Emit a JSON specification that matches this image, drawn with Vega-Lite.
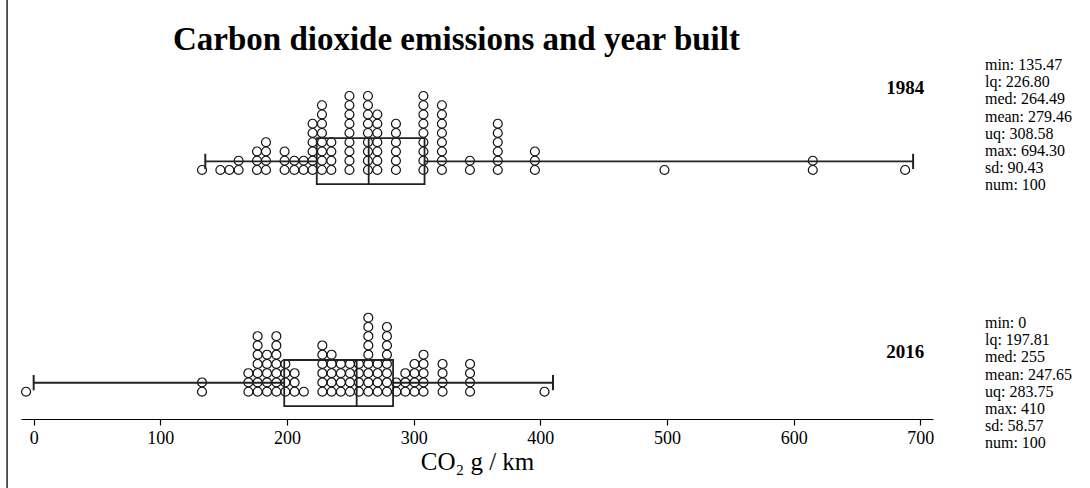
{
  "$schema": "https://vega.github.io/schema/vega-lite/v6.json",
  "width": 912,
  "height": 364,
  "autosize": "none",
  "padding": {"left": 21, "top": 55, "right": 157, "bottom": 69},
  "background": "white",
  "config": {"view": {"stroke": null}, "font": "Liberation Serif"},
  "title": {"text": "Carbon dioxide emissions and year built", "anchor": "start", "frame": "group", "dx": 152, "offset": -59, "fontSize": 33, "fontWeight": "bold", "font": "Liberation Serif", "color": "black"},
  "datasets": {
    "dots": [
      {"year":"1984","co2":132.9},
      {"year":"1984","co2":147.4},
      {"year":"1984","co2":154.5},
      {"year":"1984","co2":161.8},{"year":"1984","co2":161.8},
      {"year":"1984","co2":176.3},{"year":"1984","co2":176.3},{"year":"1984","co2":176.3},
      {"year":"1984","co2":183.4},{"year":"1984","co2":183.4},{"year":"1984","co2":183.4},{"year":"1984","co2":183.4},
      {"year":"1984","co2":198.1},{"year":"1984","co2":198.1},{"year":"1984","co2":198.1},
      {"year":"1984","co2":205.8},{"year":"1984","co2":205.8},
      {"year":"1984","co2":213.1},{"year":"1984","co2":213.1},
      {"year":"1984","co2":220.2},{"year":"1984","co2":220.2},{"year":"1984","co2":220.2},{"year":"1984","co2":220.2},{"year":"1984","co2":220.2},{"year":"1984","co2":220.2},
      {"year":"1984","co2":227.6},{"year":"1984","co2":227.6},{"year":"1984","co2":227.6},{"year":"1984","co2":227.6},{"year":"1984","co2":227.6},{"year":"1984","co2":227.6},{"year":"1984","co2":227.6},{"year":"1984","co2":227.6},
      {"year":"1984","co2":235.0},{"year":"1984","co2":235.0},{"year":"1984","co2":235.0},{"year":"1984","co2":235.0},
      {"year":"1984","co2":249.3},{"year":"1984","co2":249.3},{"year":"1984","co2":249.3},{"year":"1984","co2":249.3},{"year":"1984","co2":249.3},{"year":"1984","co2":249.3},{"year":"1984","co2":249.3},{"year":"1984","co2":249.3},{"year":"1984","co2":249.3},
      {"year":"1984","co2":263.9},{"year":"1984","co2":263.9},{"year":"1984","co2":263.9},{"year":"1984","co2":263.9},{"year":"1984","co2":263.9},{"year":"1984","co2":263.9},{"year":"1984","co2":263.9},{"year":"1984","co2":263.9},{"year":"1984","co2":263.9},
      {"year":"1984","co2":271.3},{"year":"1984","co2":271.3},{"year":"1984","co2":271.3},{"year":"1984","co2":271.3},{"year":"1984","co2":271.3},{"year":"1984","co2":271.3},{"year":"1984","co2":271.3},
      {"year":"1984","co2":286.0},{"year":"1984","co2":286.0},{"year":"1984","co2":286.0},{"year":"1984","co2":286.0},{"year":"1984","co2":286.0},{"year":"1984","co2":286.0},
      {"year":"1984","co2":307.7},{"year":"1984","co2":307.7},{"year":"1984","co2":307.7},{"year":"1984","co2":307.7},{"year":"1984","co2":307.7},{"year":"1984","co2":307.7},{"year":"1984","co2":307.7},{"year":"1984","co2":307.7},{"year":"1984","co2":307.7},
      {"year":"1984","co2":322.3},{"year":"1984","co2":322.3},{"year":"1984","co2":322.3},{"year":"1984","co2":322.3},{"year":"1984","co2":322.3},{"year":"1984","co2":322.3},{"year":"1984","co2":322.3},{"year":"1984","co2":322.3},
      {"year":"1984","co2":344.4},{"year":"1984","co2":344.4},
      {"year":"1984","co2":366.4},{"year":"1984","co2":366.4},{"year":"1984","co2":366.4},{"year":"1984","co2":366.4},{"year":"1984","co2":366.4},{"year":"1984","co2":366.4},
      {"year":"1984","co2":395.7},{"year":"1984","co2":395.7},{"year":"1984","co2":395.7},
      {"year":"1984","co2":498.0},
      {"year":"1984","co2":615.1},{"year":"1984","co2":615.1},
      {"year":"1984","co2":688.0},
      {"year":"2016","co2":-6.0},
      {"year":"2016","co2":132.9},{"year":"2016","co2":132.9},
      {"year":"2016","co2":169.5},{"year":"2016","co2":169.5},{"year":"2016","co2":169.5},
      {"year":"2016","co2":176.8},{"year":"2016","co2":176.8},{"year":"2016","co2":176.8},{"year":"2016","co2":176.8},{"year":"2016","co2":176.8},{"year":"2016","co2":176.8},{"year":"2016","co2":176.8},
      {"year":"2016","co2":184.2},{"year":"2016","co2":184.2},{"year":"2016","co2":184.2},{"year":"2016","co2":184.2},{"year":"2016","co2":184.2},
      {"year":"2016","co2":191.6},{"year":"2016","co2":191.6},{"year":"2016","co2":191.6},{"year":"2016","co2":191.6},{"year":"2016","co2":191.6},{"year":"2016","co2":191.6},{"year":"2016","co2":191.6},
      {"year":"2016","co2":198.7},{"year":"2016","co2":198.7},{"year":"2016","co2":198.7},{"year":"2016","co2":198.7},
      {"year":"2016","co2":206.0},{"year":"2016","co2":206.0},{"year":"2016","co2":206.0},
      {"year":"2016","co2":213.3},
      {"year":"2016","co2":227.9},{"year":"2016","co2":227.9},{"year":"2016","co2":227.9},{"year":"2016","co2":227.9},{"year":"2016","co2":227.9},{"year":"2016","co2":227.9},
      {"year":"2016","co2":235.2},{"year":"2016","co2":235.2},{"year":"2016","co2":235.2},{"year":"2016","co2":235.2},{"year":"2016","co2":235.2},
      {"year":"2016","co2":242.5},{"year":"2016","co2":242.5},{"year":"2016","co2":242.5},{"year":"2016","co2":242.5},
      {"year":"2016","co2":249.7},{"year":"2016","co2":249.7},{"year":"2016","co2":249.7},{"year":"2016","co2":249.7},
      {"year":"2016","co2":256.8},{"year":"2016","co2":256.8},{"year":"2016","co2":256.8},{"year":"2016","co2":256.8},
      {"year":"2016","co2":264.2},{"year":"2016","co2":264.2},{"year":"2016","co2":264.2},{"year":"2016","co2":264.2},{"year":"2016","co2":264.2},{"year":"2016","co2":264.2},{"year":"2016","co2":264.2},{"year":"2016","co2":264.2},{"year":"2016","co2":264.2},
      {"year":"2016","co2":271.5},{"year":"2016","co2":271.5},{"year":"2016","co2":271.5},{"year":"2016","co2":271.5},
      {"year":"2016","co2":278.9},{"year":"2016","co2":278.9},{"year":"2016","co2":278.9},{"year":"2016","co2":278.9},{"year":"2016","co2":278.9},{"year":"2016","co2":278.9},{"year":"2016","co2":278.9},{"year":"2016","co2":278.9},
      {"year":"2016","co2":286.3},{"year":"2016","co2":286.3},
      {"year":"2016","co2":293.4},{"year":"2016","co2":293.4},{"year":"2016","co2":293.4},
      {"year":"2016","co2":300.7},{"year":"2016","co2":300.7},{"year":"2016","co2":300.7},{"year":"2016","co2":300.7},
      {"year":"2016","co2":307.8},{"year":"2016","co2":307.8},{"year":"2016","co2":307.8},{"year":"2016","co2":307.8},{"year":"2016","co2":307.8},
      {"year":"2016","co2":322.8},{"year":"2016","co2":322.8},{"year":"2016","co2":322.8},{"year":"2016","co2":322.8},
      {"year":"2016","co2":344.5},{"year":"2016","co2":344.5},{"year":"2016","co2":344.5},{"year":"2016","co2":344.5},
      {"year":"2016","co2":403.3}
    ],
    "stats": [
      {"year":"1984","min":135.47,"lo":223.5,"med":264.49,"hi":308.58,"max":694.3,"info":"min: 135.47\nlq: 226.80\nmed: 264.49\nmean: 279.46\nuq: 308.58\nmax: 694.30\nsd: 90.43\nnum: 100"},
      {"year":"2016","min":0,"lo":197.81,"med":255,"hi":283.75,"max":410,"info":"min: 0\nlq: 197.81\nmed: 255\nmean: 247.65\nuq: 283.75\nmax: 410\nsd: 58.57\nnum: 100"}
    ]
  },
  "layer": [
    {
      "data": {"name": "dots"},
      "transform": [{"filter": "datum.year === '2016'"}, {"window": [{"op": "row_number", "as": "n"}], "groupby": ["co2"]}],
      "mark": {"type": "point", "shape": "circle", "filled": false, "stroke": "#111", "strokeWidth": 1.2, "size": 80, "opacity": 1},
      "encoding": {
        "x": {"field": "co2", "type": "quantitative", "scale": {"domain": [-10, 710], "nice": false, "zero": false},
              "axis": {"values": [0, 100, 200, 300, 400, 500, 600, 700], "title": "CO₂ g / km", "grid": false, "domainColor": "black", "domainWidth": 1.2, "tickColor": "black", "tickWidth": 1.2, "tickSize": 6, "labelColor": "black", "labelFont": "Liberation Serif", "labelFontSize": 18, "labelPadding": 4, "titleFont": "Liberation Serif", "titleFontSize": 25, "titleFontWeight": "normal", "titleColor": "black", "titlePadding": 2}},
        "y": {"field": "n", "type": "quantitative", "scale": {"domain": [-1.95, 37.4], "nice": false, "zero": false}, "axis": null}
      }
    },
    {
      "data": {"name": "dots"},
      "transform": [{"filter": "datum.year === '1984'"}, {"window": [{"op": "row_number", "as": "n"}], "groupby": ["co2"]}],
      "mark": {"type": "point", "shape": "circle", "filled": false, "stroke": "#111", "strokeWidth": 1.2, "size": 80, "opacity": 1},
      "encoding": {
        "x": {"field": "co2", "type": "quantitative"},
        "y": {"field": "n", "type": "quantitative", "scale": {"domain": [-25.92, 13.43], "nice": false, "zero": false}, "axis": null}
      }
    },
    {"data": {"name": "stats"}, "transform": [{"filter": "datum.year === '2016'"}],
     "mark": {"type": "rule", "stroke": "#222", "strokeWidth": 1.5},
     "encoding": {"x": {"datum": -21, "type": "quantitative"}, "y": {"datum": 43.5, "type": "quantitative", "scale": {"domain": [-1.95, 37.4], "nice": false, "zero": false}, "axis": null}, "y2": {"datum": -9.5}}},
    {"data": {"name": "stats"}, "transform": [{"filter": "datum.year === '1984'"}],
     "mark": {"type": "rect", "filled": false, "stroke": "#222", "strokeWidth": 1.8},
     "encoding": {"x": {"field": "lo", "type": "quantitative"}, "x2": {"field": "hi"}, "y": {"datum": -0.52, "type": "quantitative", "scale": {"domain": [-25.92, 13.43], "nice": false, "zero": false}, "axis": null}, "y2": {"datum": 4.45}}},
    {"data": {"name": "stats"}, "transform": [{"filter": "datum.year === '1984'"}],
     "mark": {"type": "rule", "stroke": "#222", "strokeWidth": 1.8},
     "encoding": {"x": {"field": "med", "type": "quantitative"}, "y": {"datum": -0.52, "type": "quantitative", "scale": {"domain": [-25.92, 13.43], "nice": false, "zero": false}, "axis": null}, "y2": {"datum": 4.45}}},
    {"data": {"name": "stats"}, "transform": [{"filter": "datum.year === '1984'"}],
     "mark": {"type": "rule", "stroke": "#222", "strokeWidth": 1.8},
     "encoding": {"x": {"field": "min", "type": "quantitative"}, "x2": {"field": "lo"}, "y": {"datum": 1.93, "type": "quantitative", "scale": {"domain": [-25.92, 13.43], "nice": false, "zero": false}, "axis": null}}},
    {"data": {"name": "stats"}, "transform": [{"filter": "datum.year === '1984'"}],
     "mark": {"type": "rule", "stroke": "#222", "strokeWidth": 1.8},
     "encoding": {"x": {"field": "hi", "type": "quantitative"}, "x2": {"field": "max"}, "y": {"datum": 1.93, "type": "quantitative", "scale": {"domain": [-25.92, 13.43], "nice": false, "zero": false}, "axis": null}}},
    {"data": {"name": "stats"}, "transform": [{"filter": "datum.year === '1984'"}],
     "mark": {"type": "rule", "stroke": "#222", "strokeWidth": 2},
     "encoding": {"x": {"field": "min", "type": "quantitative"}, "y": {"datum": 1.1, "type": "quantitative", "scale": {"domain": [-25.92, 13.43], "nice": false, "zero": false}, "axis": null}, "y2": {"datum": 2.75}}},
    {"data": {"name": "stats"}, "transform": [{"filter": "datum.year === '1984'"}],
     "mark": {"type": "rule", "stroke": "#222", "strokeWidth": 2},
     "encoding": {"x": {"field": "max", "type": "quantitative"}, "y": {"datum": 1.1, "type": "quantitative", "scale": {"domain": [-25.92, 13.43], "nice": false, "zero": false}, "axis": null}, "y2": {"datum": 2.75}}},
    {"data": {"name": "stats"}, "transform": [{"filter": "datum.year === '1984'"}],
     "mark": {"type": "text", "align": "right", "baseline": "middle", "fontSize": 19, "fontWeight": "bold", "font": "Liberation Serif", "color": "black"},
     "encoding": {"x": {"datum": 703, "type": "quantitative"}, "y": {"datum": 9.86, "type": "quantitative", "scale": {"domain": [-25.92, 13.43], "nice": false, "zero": false}, "axis": null}, "text": {"field": "year"}}},
    {"data": {"name": "stats"}, "transform": [{"filter": "datum.year === '1984'"}],
     "mark": {"type": "text", "align": "left", "baseline": "top", "fontSize": 16, "lineHeight": 17.2, "lineBreak": "\n", "font": "Liberation Serif", "color": "black"},
     "encoding": {"x": {"datum": 751, "type": "quantitative"}, "y": {"datum": 13.22, "type": "quantitative", "scale": {"domain": [-25.92, 13.43], "nice": false, "zero": false}, "axis": null}, "text": {"field": "info"}}},
    {"data": {"name": "stats"}, "transform": [{"filter": "datum.year === '2016'"}],
     "mark": {"type": "rect", "filled": false, "stroke": "#222", "strokeWidth": 1.8},
     "encoding": {"x": {"field": "lo", "type": "quantitative"}, "x2": {"field": "hi"}, "y": {"datum": -0.56, "type": "quantitative", "scale": {"domain": [-1.95, 37.4], "nice": false, "zero": false}, "axis": null}, "y2": {"datum": 4.43}}},
    {"data": {"name": "stats"}, "transform": [{"filter": "datum.year === '2016'"}],
     "mark": {"type": "rule", "stroke": "#222", "strokeWidth": 1.8},
     "encoding": {"x": {"field": "med", "type": "quantitative"}, "y": {"datum": -0.56, "type": "quantitative", "scale": {"domain": [-1.95, 37.4], "nice": false, "zero": false}, "axis": null}, "y2": {"datum": 4.43}}},
    {"data": {"name": "stats"}, "transform": [{"filter": "datum.year === '2016'"}],
     "mark": {"type": "rule", "stroke": "#222", "strokeWidth": 1.8},
     "encoding": {"x": {"field": "min", "type": "quantitative"}, "x2": {"field": "lo"}, "y": {"datum": 1.97, "type": "quantitative", "scale": {"domain": [-1.95, 37.4], "nice": false, "zero": false}, "axis": null}}},
    {"data": {"name": "stats"}, "transform": [{"filter": "datum.year === '2016'"}],
     "mark": {"type": "rule", "stroke": "#222", "strokeWidth": 1.8},
     "encoding": {"x": {"field": "hi", "type": "quantitative"}, "x2": {"field": "max"}, "y": {"datum": 1.97, "type": "quantitative", "scale": {"domain": [-1.95, 37.4], "nice": false, "zero": false}, "axis": null}}},
    {"data": {"name": "stats"}, "transform": [{"filter": "datum.year === '2016'"}],
     "mark": {"type": "rule", "stroke": "#222", "strokeWidth": 2},
     "encoding": {"x": {"field": "min", "type": "quantitative"}, "y": {"datum": 1.15, "type": "quantitative", "scale": {"domain": [-1.95, 37.4], "nice": false, "zero": false}, "axis": null}, "y2": {"datum": 2.8}}},
    {"data": {"name": "stats"}, "transform": [{"filter": "datum.year === '2016'"}],
     "mark": {"type": "rule", "stroke": "#222", "strokeWidth": 2},
     "encoding": {"x": {"field": "max", "type": "quantitative"}, "y": {"datum": 1.15, "type": "quantitative", "scale": {"domain": [-1.95, 37.4], "nice": false, "zero": false}, "axis": null}, "y2": {"datum": 2.8}}},
    {"data": {"name": "stats"}, "transform": [{"filter": "datum.year === '2016'"}],
     "mark": {"type": "text", "align": "right", "baseline": "middle", "fontSize": 19, "fontWeight": "bold", "font": "Liberation Serif", "color": "black"},
     "encoding": {"x": {"datum": 703, "type": "quantitative"}, "y": {"datum": 5.29, "type": "quantitative", "scale": {"domain": [-1.95, 37.4], "nice": false, "zero": false}, "axis": null}, "text": {"field": "year"}}},
    {"data": {"name": "stats"}, "transform": [{"filter": "datum.year === '2016'"}],
     "mark": {"type": "text", "align": "left", "baseline": "top", "fontSize": 16, "lineHeight": 17.2, "lineBreak": "\n", "font": "Liberation Serif", "color": "black"},
     "encoding": {"x": {"datum": 751, "type": "quantitative"}, "y": {"datum": 9.29, "type": "quantitative", "scale": {"domain": [-1.95, 37.4], "nice": false, "zero": false}, "axis": null}, "text": {"field": "info"}}}
  ],
  "resolve": {"scale": {"y": "independent"}}
}
